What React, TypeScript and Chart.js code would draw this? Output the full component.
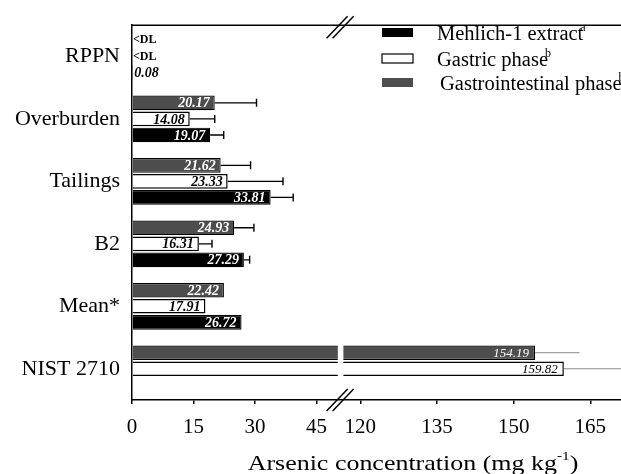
import React, { useEffect, useRef } from 'react';
import { Chart, registerables, LinearScale } from 'chart.js';

const CATEGORIES = ['RPPN', 'Overburden', 'Tailings', 'B2', 'Mean*', 'NIST 2710'];
const GI_VALUES = [null, 20.17, 21.62, 24.93, 22.42, 154.19];
const GASTRIC_VALUES = [null, 14.08, 23.33, 16.31, 17.91, 159.82];
const MEHLICH_VALUES = [0.08, 19.07, 33.81, 27.29, 26.72, null];
const GI_SD = [null, 10.2, 7.3, 4.8, null, 8.7];
const GASTRIC_SD = [null, 6.1, 13.5, 3.2, null, 12.5];
const MEHLICH_SD = [null, 3.3, 5.5, 1.4, null, null];
const GI_TEXT = ['<DL', '20.17', '21.62', '24.93', '22.42', '154.19'];
const GASTRIC_TEXT = ['<DL', '14.08', '23.33', '16.31', '17.91', '159.82'];
const MEHLICH_TEXT = ['0.08', '19.07', '33.81', '27.29', '26.72', ''];
const X_TICKS = [0, 15, 30, 45, 120, 135, 150, 165];
const X_MIN = 0;
const X_MAX = 171;
const BREAK_FROM = 50.2;
const BREAK_TO = 116.7;
const LEGEND_LABELS = ['Mehlich-1 extract', 'Gastric phase', 'Gastrointestinal phase'];
const LEGEND_SUP = ['a', 'b', 'b'];
const X_TITLE = 'Arsenic concentration (mg kg';
const X_TITLE_SUP = '-1';
const X_TITLE_END = ')';

const SERIF = '"Liberation Serif", "Times New Roman", serif';

class BrokenLinearScale extends LinearScale {
  static id = 'brokenLinear';
  static defaults = LinearScale.defaults;

  buildTicks() {
    return X_TICKS.map((v) => ({ value: v }));
  }

  _frac(v: number) {
    const o: any = this.options;
    const min = this.min, max = this.max;
    const a = o.breakFrom, b = o.breakTo, fa = o.breakStart, fb = o.breakEnd;
    if (v <= a) return ((v - min) / (a - min)) * fa;
    if (v >= b) return fb + ((v - b) / (max - b)) * (1 - fb);
    return fa + ((v - a) / (b - a)) * (fb - fa);
  }

  getPixelForValue(value: any) {
    if (value === null || value === undefined || isNaN(value)) return NaN;
    return this.getPixelForDecimal(this._frac(+value));
  }

  getValueForPixel(pixel: number) {
    const d = this.getDecimalForPixel(pixel);
    const o: any = this.options;
    const min = this.min, max = this.max;
    const a = o.breakFrom, b = o.breakTo, fa = o.breakStart, fb = o.breakEnd;
    if (d <= fa) return min + (d / fa) * (a - min);
    if (d >= fb) return b + ((d - fb) / (1 - fb)) * (max - b);
    return a + ((d - fa) / (fb - fa)) * (b - a);
  }
}

Chart.register(...registerables, BrokenLinearScale as any);

const SD_LIST = [GI_SD, GASTRIC_SD, MEHLICH_SD];
const TEXT_LIST = [GI_TEXT, GASTRIC_TEXT, MEHLICH_TEXT];

const decorPlugin = {
  id: 'decor',
  afterDatasetsDraw(chart: any) {
    const ctx = chart.ctx;
    const area = chart.chartArea;
    const xs = chart.scales.x;
    // break gap
    const g1 = xs.getPixelForValue(BREAK_FROM);
    const g2 = xs.getPixelForValue(BREAK_TO);
    ctx.save();
    ctx.fillStyle = '#ffffff';
    ctx.fillRect(g1, area.top + 1, g2 - g1, area.bottom - area.top - 2);
    ctx.restore();

    // error bars
    chart.data.datasets.forEach((ds: any, i: number) => {
      const meta = chart.getDatasetMeta(i);
      meta.data.forEach((el: any, j: number) => {
        const v = ds.data[j];
        const sd = SD_LIST[i][j];
        if (v == null || sd == null) return;
        const x1 = el.x;
        const x2 = Math.min(xs.getPixelForValue(v + sd), area.right + 2);
        const right = v > BREAK_TO;
        ctx.save();
        ctx.strokeStyle = right ? '#8a8a8a' : '#000';
        ctx.lineWidth = right ? 1 : 1.4;
        ctx.beginPath();
        ctx.moveTo(x1, el.y);
        ctx.lineTo(x2, el.y);
        if (!right) {
          ctx.moveTo(x2, el.y - 4);
          ctx.lineTo(x2, el.y + 4);
        }
        ctx.stroke();
        ctx.restore();
      });
    });

    // value labels
    chart.data.datasets.forEach((ds: any, i: number) => {
      const meta = chart.getDatasetMeta(i);
      meta.data.forEach((el: any, j: number) => {
        const txt = TEXT_LIST[i][j];
        if (!txt) return;
        const v = ds.data[j];
        ctx.save();
        ctx.textBaseline = 'middle';
        if (v == null) {
          ctx.font = `bold 12px ${SERIF}`;
          ctx.fillStyle = '#000';
          ctx.textAlign = 'left';
          ctx.fillText(txt, area.left + 1, el.y);
        } else {
          const big = v > BREAK_TO;
          ctx.font = big ? `italic 13px ${SERIF}` : `italic bold 14px ${SERIF}`;
          const w = ctx.measureText(txt).width;
          const barW = el.x - el.base;
          if (barW < w + 8) {
            ctx.fillStyle = '#000';
            ctx.textAlign = 'left';
            ctx.fillText(txt, el.x + 2, el.y + 1);
          } else {
            ctx.fillStyle = ds.labelColor;
            ctx.textAlign = 'right';
            ctx.fillText(txt, el.x - (big ? 6 : 5), el.y + 1);
          }
        }
        ctx.restore();
      });
    });
  },
  afterDraw(chart: any) {
    const ctx = chart.ctx;
    const area = chart.chartArea;
    const xs = chart.scales.x;
    const cx = (xs.getPixelForValue(BREAK_FROM) + xs.getPixelForValue(BREAK_TO)) / 2;
    ctx.save();
    // top border
    ctx.strokeStyle = '#000';
    ctx.lineWidth = 1.5;
    ctx.beginPath();
    ctx.moveTo(area.left, area.top);
    ctx.lineTo(area.right, area.top);
    ctx.stroke();
    // break marks
    ctx.lineWidth = 1.5;
    [area.top + 2, area.bottom].forEach((yc: number) => {
      [-4, 2].forEach((dx: number) => {
        ctx.beginPath();
        ctx.moveTo(cx + dx - 10, yc + 11);
        ctx.lineTo(cx + dx + 11, yc - 11);
        ctx.stroke();
      });
    });
    // legend
    const order = [2, 1, 0];
    const rowY = [32.5, 58.5, 82.5];
    order.forEach((di: number, k: number) => {
      const ds = chart.data.datasets[di];
      const y = rowY[k];
      ctx.fillStyle = ds.backgroundColor;
      ctx.fillRect(382, y - 4.5, 31, 9);
      if (ds.backgroundColor === '#ffffff') {
        ctx.strokeStyle = '#000';
        ctx.lineWidth = 1.2;
        ctx.strokeRect(382, y - 4.5, 31, 9);
      }
      ctx.fillStyle = '#000';
      ctx.font = `20.5px ${SERIF}`;
      ctx.textBaseline = 'middle';
      ctx.textAlign = 'left';
      const tx = k === 2 ? 440 : 437;
      ctx.fillText(LEGEND_LABELS[k], tx, y + 2);
      const w = ctx.measureText(LEGEND_LABELS[k]).width;
      ctx.font = `12px ${SERIF}`;
      ctx.fillText(LEGEND_SUP[k], tx + w - 3, y - 5);
    });
    // x title
    ctx.save();
    ctx.textBaseline = 'alphabetic';
    ctx.textAlign = 'left';
    ctx.font = `22px ${SERIF}`;
    const w1 = ctx.measureText(X_TITLE).width;
    ctx.font = `13px ${SERIF}`;
    const w2 = ctx.measureText(X_TITLE_SUP).width;
    ctx.font = `22px ${SERIF}`;
    const w3 = ctx.measureText(X_TITLE_END).width;
    const sx = 1.18;
    const total = (w1 + w2 + w3) * sx;
    ctx.translate(413 - total / 2, 470);
    ctx.scale(sx, 1);
    ctx.fillStyle = '#000';
    ctx.fillText(X_TITLE, 0, 0);
    ctx.font = `13px ${SERIF}`;
    ctx.fillText(X_TITLE_SUP, w1, -10);
    ctx.font = `22px ${SERIF}`;
    ctx.fillText(X_TITLE_END, w1 + w2, 0);
    ctx.restore();
    ctx.restore();
  },
};

export default function App() {
  const ref = useRef<HTMLCanvasElement | null>(null);
  useEffect(() => {
    if (!ref.current) return;
    const chart = new Chart(ref.current, {
      type: 'bar',
      data: {
        labels: CATEGORIES,
        datasets: [
          {
            label: LEGEND_LABELS[2],
            data: GI_VALUES,
            backgroundColor: '#4d4d4d',
            borderColor: '#000',
            borderWidth: 1.2,
            labelColor: '#ffffff',
          } as any,
          {
            label: LEGEND_LABELS[1],
            data: GASTRIC_VALUES,
            backgroundColor: '#ffffff',
            borderColor: '#000',
            borderWidth: 1.5,
            labelColor: '#000000',
          } as any,
          {
            label: LEGEND_LABELS[0],
            data: MEHLICH_VALUES,
            backgroundColor: '#000000',
            borderColor: '#000',
            borderWidth: 1.2,
            labelColor: '#ffffff',
          } as any,
        ],
      },
      options: {
        indexAxis: 'y',
        responsive: false,
        animation: false,
        categoryPercentage: 0.77,
        barPercentage: 0.91,
        layout: { padding: { top: 15, right: 0, left: 0, bottom: 0 } },
        plugins: { legend: { display: false }, tooltip: { enabled: false } },
        scales: {
          x: {
            type: 'brokenLinear' as any,
            min: X_MIN,
            max: X_MAX,
            breakFrom: BREAK_FROM,
            breakTo: BREAK_TO,
            breakStart: 0.4209,
            breakEnd: 0.4323,
            grid: { drawOnChartArea: false, drawTicks: true, tickLength: 4, color: '#000', lineWidth: 1.5 },
            border: { display: true, color: '#000', width: 1.5 },
            ticks: {
              autoSkip: false,
              maxRotation: 0,
              color: '#000',
              padding: 11,
              font: { family: SERIF, size: 21 },
              callback: (v: any) => String(v),
            },
            afterFit: (s: any) => { s.height = 74; },
          } as any,
          y: {
            type: 'category',
            grid: { display: false, drawTicks: false },
            border: { display: true, color: '#000', width: 1.5 },
            ticks: { color: '#000', padding: 12, font: { family: SERIF, size: 22 } },
            afterFit: (s: any) => { s.width = 132; },
          },
        },
      },
      plugins: [decorPlugin],
    } as any);
    return () => chart.destroy();
  }, []);
  return (
    <div style={{ position: 'absolute', left: 0, top: 0, width: 621, height: 474, background: '#fff' }}>
      <canvas ref={ref} width={621} height={474} style={{ display: 'block' }} />
    </div>
  );
}
